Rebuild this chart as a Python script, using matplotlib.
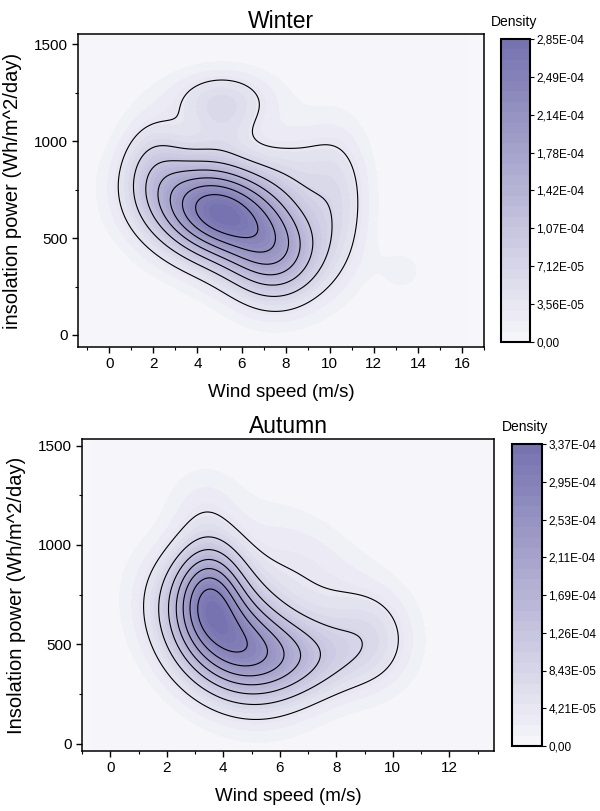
import numpy as np
import matplotlib
matplotlib.use('Agg')
import matplotlib.pyplot as plt
from matplotlib.colors import LinearSegmentedColormap

plt.rcParams['font.family'] = ['Liberation Sans', 'DejaVu Sans']

#----------------------------- data ----------------------#
# kde of each season, described as a sum of gaussian bumps
# columns: x centre, y centre, sigma x, sigma y, correlation, relative height
winter_cx = [4.9, 7.6, 8.5, 10.4, 5.1, 5.2, 2.0, 13.3]
winter_cy = [640, 400, 860, 700, 1215, 1060, 900, 330]
winter_sx = [2.1, 1.5, 1.4, 1.0, 1.6, 1.0, 1.0, 0.9]
winter_sy = [180, 170, 170, 250, 105, 100, 170, 100]
winter_rho = [-0.2, 0.0, 0.0, 0.0, 0.0, 0.0, 0.0, 0.0]
winter_amp = [1.0, 0.45, 0.11, 0.16, 0.2, 0.08, 0.16, 0.045]
winter_max = 2.85e-4

autumn_cx = [3.5, 4.05, 6.4, 9.3, 7.0, 3.3]
autumn_cy = [790, 560, 440, 540, 880, 1200]
autumn_sx = [0.8, 1.5, 1.7, 1.0, 1.7, 0.9]
autumn_sy = [170, 220, 145, 170, 220, 140]
autumn_rho = [0.0, -0.3, 0.0, 0.0, -0.5, 0.0]
autumn_amp = [0.5, 0.9, 0.42, 0.16, 0.12, 0.08]
autumn_max = 3.37e-4

W, H = 600, 811
fig = plt.figure(figsize=(W/100, H/100), dpi=100)

cmap = LinearSegmentedColormap.from_list('dens', ['#f7f7fb', '#7571b0'])


def box(l, t, r, b):
    # pixel box -> figure fraction
    return [l/W, (H-b)/H, (r-l)/W, (b-t)/H]


def mixture(X, Y, cx, cy, sx, sy, rho, amp):
    Z = np.zeros_like(X)
    for i in range(len(cx)):
        u = (X - cx[i])/sx[i]
        v = (Y - cy[i])/sy[i]
        r = rho[i]
        q = (u*u - 2*r*u*v + v*v)/(1 - r*r)
        Z += amp[i]*np.exp(-q/2)
    return Z


def fmt(v):
    if v == 0:
        return '0,00'
    return ('%.2E' % v).replace('.', ',')


def panel(ax_box, cb_box, dens_pos, title, ylabel, xlim, ylim, xmax_tick,
          cx, cy, sx, sy, rho, amp, zmax):
    ax = fig.add_axes(box(*ax_box))
    x = np.linspace(xlim[0], xlim[1], 300)
    y = np.linspace(ylim[0], ylim[1], 300)
    X, Y = np.meshgrid(x, y)
    Z = mixture(X, Y, cx, cy, sx, sy, rho, amp)
    Z = Z/Z.max()*zmax

    ax.set_facecolor(cmap(0.0))
    cf = ax.contourf(X, Y, Z, levels=np.linspace(0, zmax, 30), cmap=cmap)
    ax.contour(X, Y, Z, levels=zmax*np.arange(1, 8)/8, colors='black', linewidths=0.8)

    ax.set_xlim(xlim)
    ax.set_ylim(ylim)
    ax.set_xticks(np.arange(0, xmax_tick + 1, 2))
    ax.set_xticks(np.arange(-1, xmax_tick + 2, 2), minor=True)
    ax.set_yticks([0, 500, 1000, 1500])
    ax.set_yticks([250, 750, 1250], minor=True)
    ax.tick_params(which='major', length=4, width=1, labelsize=11, direction='out')
    ax.tick_params(which='minor', length=2.5, width=0.8, direction='out')
    for s in ax.spines.values():
        s.set_linewidth(1.1)
    ax.set_title(title, fontsize=16.5, pad=4)
    ax.set_xlabel('Wind speed (m/s)', fontsize=13.5, labelpad=9)
    ax.set_ylabel(ylabel, fontsize=14.5, labelpad=8)

    cax = fig.add_axes(box(*cb_box))
    cb = fig.colorbar(cf, cax=cax)
    ticks = zmax*np.arange(0, 9)/8
    cb.set_ticks(ticks)
    cb.set_ticklabels([fmt(t) for t in ticks])
    cb.outline.set_linewidth(1.5)
    cax.tick_params(length=3, width=0.8, labelsize=8.5, pad=1.5)
    fig.text(dens_pos[0]/W, 1 - dens_pos[1]/H, 'Density', fontsize=10, ha='left', va='center')
    return ax


panel((78, 34, 484, 347), (501, 39, 530, 342), (491, 22), 'Winter',
      'insolation power (Wh/m^2/day)', (-1.42, 16.33), (-62, 1553), 16,
      winter_cx, winter_cy, winter_sx, winter_sy, winter_rho, winter_amp, winter_max)

panel((82, 439, 494, 751), (512, 444, 542, 746), (502, 427), 'Autumn',
      'Insolation power (Wh/m^2/day)', (-0.55, 13.58), (-37, 1533), 12,
      autumn_cx, autumn_cy, autumn_sx, autumn_sy, autumn_rho, autumn_amp, autumn_max)

fig.savefig('out.png', dpi=100)
